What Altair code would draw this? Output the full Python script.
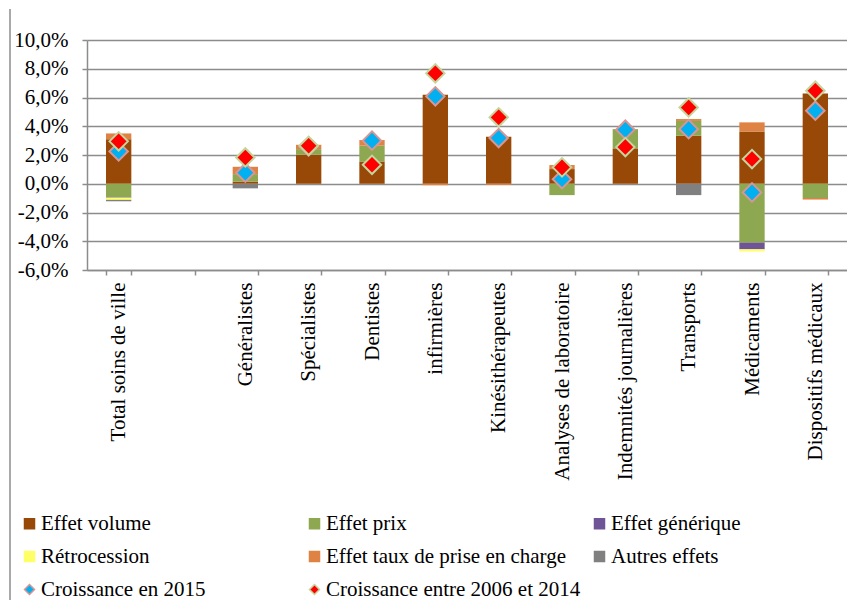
import altair as alt
import pandas as pd

categories = ["Total soins de ville", " ", "Généralistes", "Spécialistes", "Dentistes",
              "infirmières", "Kinésithérapeutes", "Analyses de laboratoire",
              "Indemnités journalières", "Transports", "Médicaments", "Dispositifs médicaux"]
bar_categories = [c for c in categories if c.strip()]

series_bars = ["Effet volume", "Effet prix", "Effet générique", "Rétrocession",
               "Effet taux de prise en charge", "Autres effets"]
series_points = ["Croissance en 2015", "Croissance entre 2006 et 2014"]

effet_volume = [3.10, 0.15, 2.02, 1.55, 6.20, 3.27, 1.02, 2.46, 3.34, 3.64, 6.28]
effet_prix = [-0.93, 0.52, 0.39, 1.10, 0.0, 0.0, -0.79, 1.34, 1.03, -4.10, -0.99]
effet_generique = [-0.04, 0.0, 0.0, 0.0, 0.0, 0.0, 0.0, 0.0, 0.0, -0.46, 0.0]
retrocession = [-0.15, 0.0, 0.0, 0.0, 0.0, 0.0, 0.0, 0.0, 0.0, -0.15, 0.0]
effet_taux = [0.40, 0.51, 0.30, 0.39, -0.10, -0.08, 0.28, 0.0, 0.13, 0.63, -0.11]
autres_effets = [-0.10, -0.32, 0.0, 0.0, 0.0, 0.0, 0.0, 0.0, -0.79, 0.0, 0.0]

croissance_2015 = [2.25, 0.77, 2.60, 3.00, 6.08, 3.18, 0.32, 3.76, 3.80, -0.60, 5.08]
croissance_2006_2014 = [2.95, 1.83, 2.64, 1.32, 7.68, 4.62, 1.14, 2.55, 5.31, 1.72, 6.47]

y_ticks = [-6, -4, -2, 0, 2, 4, 6, 8, 10]

fill_colors = ["#984807", "#8EA852", "#6F5597", "#FFFF66", "#DF8344", "#808080",
               "#00B0F0", "#FF0000"]
stroke_colors = ["#984807", "#8EA852", "#6F5597", "#FFFF66", "#DF8344", "#808080",
                 "#D99594", "#C3D69B"]
shapes = ["square"] * 6 + ["diamond", "diamond"]

GREY = "#8C8C8C"
FONT = "Liberation Serif"
FS = 21

bar_values = [effet_volume, effet_prix, effet_generique, retrocession, effet_taux, autres_effets]
rows = []
for i, (s, vals) in enumerate(zip(series_bars, bar_values)):
    for c, v in zip(bar_categories, vals):
        if v != 0:
            rows.append({"cat": c, "series": s, "value": v, "idx": i})
bars_df = pd.DataFrame(rows)

prow = []
for s, vals in zip(series_points, [croissance_2015, croissance_2006_2014]):
    for c, v in zip(bar_categories, vals):
        prow.append({"cat": c, "series": s, "value": v})
points_df = pd.DataFrame(prow)

all_series = series_bars + series_points

x_enc = alt.X(
    "cat:N",
    scale=alt.Scale(domain=categories, paddingInner=0.6, paddingOuter=0.3),
    axis=alt.Axis(title=None, labelAngle=-90, labelFont=FONT, labelFontSize=FS,
                  labelColor="black", labelPadding=7, tickSize=5, tickColor=GREY,
                  tickWidth=1.5, domainColor=GREY, domainWidth=1.5, tickBand="extent",
                  labelLimit=300, grid=False, labelOverlap=False),
)
y_scale = alt.Scale(domain=[-6, 10], nice=False, zero=False)
y_axis = alt.Axis(
    title=None, values=y_ticks, tickCount=9, grid=True, gridColor=GREY, gridWidth=1.5,
    labelFont=FONT, labelFontSize=FS, labelColor="black", labelPadding=14,
    tickSize=5, tickColor=GREY, tickWidth=1.5, domainColor=GREY, domainWidth=1.5,
    labelOverlap=False,
    labelExpr="(datum.value < 0 ? '-' : '') + replace(format(abs(datum.value), '.1f'), '.', ',') + '%'",
)

legend = alt.Legend(
    title=None, orient="none", legendX=-68, legendY=473, columns=3, direction="horizontal",
    gridAlign="all", columnPadding=8, rowPadding=11, labelFont=FONT, labelFontSize=FS,
    labelColor="black", labelLimit=400, symbolSize=100, labelOffset=1,
    symbolStrokeWidth=1.5,
)
color_enc = alt.Color("series:N", scale=alt.Scale(domain=all_series, range=fill_colors),
                      legend=legend)

bars = alt.Chart(bars_df).mark_bar().encode(
    x=x_enc,
    y=alt.Y("value:Q", scale=y_scale, axis=y_axis, stack="zero"),
    color=color_enc,
    order=alt.Order("idx:Q", sort="ascending"),
)

points = alt.Chart(points_df).mark_point(filled=True, size=340, strokeWidth=2, opacity=1).encode(
    x=alt.X("cat:N"),
    y=alt.Y("value:Q"),
    color=color_enc,
    stroke=alt.Stroke("series:N", scale=alt.Scale(domain=all_series, range=stroke_colors),
                      legend=legend),
    shape=alt.Shape("series:N", scale=alt.Scale(domain=all_series, range=shapes),
                    legend=legend),
)

frame = alt.Chart(pd.DataFrame({"a": [0]})).mark_rule(color=GREY, strokeWidth=1.5).encode(
    x=alt.value(-77), y=alt.value(-31), y2=alt.value(560)
)

chart = alt.layer(frame, bars, points).properties(
    width=760, height=230,
    padding={"left": 1, "top": 0, "right": 0, "bottom": 0},
).configure(background="white", font=FONT).configure_view(strokeWidth=0).configure_legend(
    labelFont=FONT, labelFontSize=FS, labelColor="black"
)

chart.save("out.html", embed_options={"renderer": "svg", "actions": False})
